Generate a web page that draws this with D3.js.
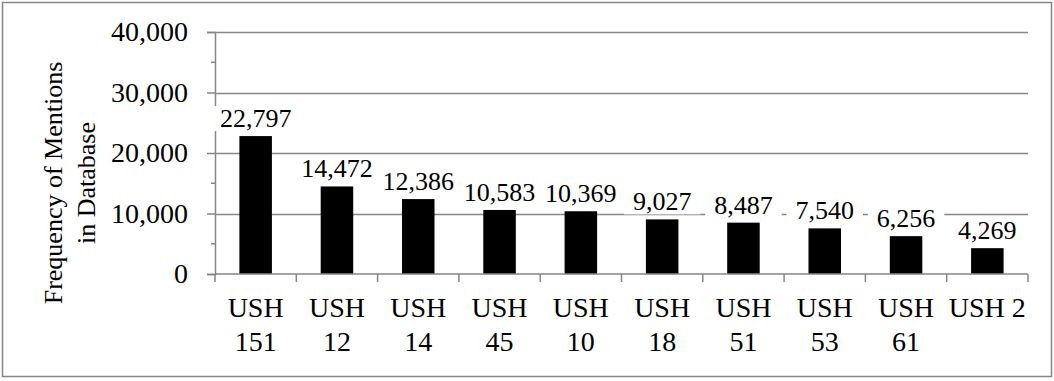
<!DOCTYPE html>
<html>
<head>
<meta charset="utf-8">
<script src="https://cdn.jsdelivr.net/npm/d3@7"></script>
<style>
  body { margin: 0; background: #fff; }
  svg { display: block; font-family: "Liberation Serif", "Times New Roman", serif; }
</style>
</head>
<body>
<div id="chart"></div>
<script>
// data
const categories = ["USH 151", "USH 12", "USH 14", "USH 45", "USH 10", "USH 18", "USH 51", "USH 53", "USH 61", "USH 2"];
const mentions = [22797, 14472, 12386, 10583, 10369, 9027, 8487, 7540, 6256, 4269];
const yTicks = [0, 10000, 20000, 30000, 40000];
const yMinorTicks = [5000, 15000, 25000, 35000];
const yTitle = ["Frequency of Mentions", "in Database"];

const width = 1054, height = 381;
const margin = { left: 215, right: 26, top: 32, bottom: 107 };
const gray = "#868686";

const svg = d3.select("#chart").append("svg")
    .attr("width", width)
    .attr("height", height);

// chart area border
svg.append("rect")
    .attr("x", 2.5).attr("y", 2.5)
    .attr("width", width - 5).attr("height", height - 7)
    .attr("fill", "#fff")
    .attr("stroke", gray)
    .attr("stroke-width", 1.5);

const x = d3.scaleBand()
    .domain(categories)
    .range([margin.left, width - margin.right])
    .paddingInner(0.6)
    .paddingOuter(0.3);

const y = d3.scaleLinear()
    .domain([0, 40000])
    .range([height - margin.bottom, margin.top]);

// gridlines
svg.append("g")
    .selectAll("line")
    .data(yTicks.slice(1))
    .enter().append("line")
    .attr("x1", margin.left).attr("x2", width - margin.right)
    .attr("y1", d => Math.round(y(d)) + 0.5).attr("y2", d => Math.round(y(d)) + 0.5)
    .attr("stroke", gray)
    .attr("stroke-width", 1.5);

// y axis
const yAxis = svg.append("g")
    .attr("transform", `translate(${margin.left},0)`)
    .call(d3.axisLeft(y).tickValues(yTicks).tickSize(8).tickPadding(19)
        .tickFormat(d3.format(",")));
yAxis.select(".domain").attr("stroke", gray).attr("stroke-width", 1.5);
yAxis.selectAll(".tick line").attr("stroke", gray).attr("stroke-width", 1.5);
yAxis.selectAll("text")
    .attr("font-size", "28px")
    .attr("font-family", "Liberation Serif")
    .attr("fill", "#000");

svg.append("g")
    .selectAll("line")
    .data(yMinorTicks)
    .enter().append("line")
    .attr("x1", margin.left - 4).attr("x2", margin.left)
    .attr("y1", d => y(d)).attr("y2", d => y(d))
    .attr("stroke", gray)
    .attr("stroke-width", 1.5);

// bars
svg.append("g")
    .selectAll("rect")
    .data(mentions)
    .enter().append("rect")
    .attr("x", (d, i) => x(categories[i]))
    .attr("y", d => y(d))
    .attr("width", x.bandwidth())
    .attr("height", d => y(0) - y(d))
    .attr("fill", "#000");

// x axis: ticks at category boundaries
const step = x.step();
const xBase = y(0);
svg.append("line")
    .attr("x1", margin.left).attr("x2", width - margin.right)
    .attr("y1", xBase).attr("y2", xBase)
    .attr("stroke", gray).attr("stroke-width", 1.5);

svg.append("g")
    .selectAll("line")
    .data(d3.range(categories.length + 1))
    .enter().append("line")
    .attr("x1", i => margin.left + i * (width - margin.left - margin.right) / categories.length)
    .attr("x2", i => margin.left + i * (width - margin.left - margin.right) / categories.length)
    .attr("y1", xBase).attr("y2", xBase + 8)
    .attr("stroke", gray).attr("stroke-width", 1.5);

// category labels, wrapped when wider than a category
const catLabels = svg.append("g")
    .selectAll("text")
    .data(categories)
    .enter().append("text")
    .attr("text-anchor", "middle")
    .attr("font-size", "28px")
    .attr("fill", "#000")
    .attr("x", d => x(d) + x.bandwidth() / 2)
    .attr("y", xBase + 43)
    .text(d => d);

catLabels.each(function(d) {
    const t = d3.select(this);
    if (this.getComputedTextLength() > step - 4) {
        const words = d.split(" ");
        t.text(null);
        words.forEach((w, k) => {
            t.append("tspan")
                .attr("x", x(d) + x.bandwidth() / 2)
                .attr("dy", k === 0 ? 0 : 34)
                .text(w);
        });
    }
});

// data labels with white background
const labelG = svg.append("g");
mentions.forEach((v, i) => {
    const g = labelG.append("g");
    const bg = g.append("rect").attr("fill", "#fff");
    const t = g.append("text")
        .attr("text-anchor", "middle")
        .attr("font-size", "26px")
        .attr("fill", "#000")
        .attr("x", x(categories[i]) + x.bandwidth() / 2)
        .attr("y", y(v) - 9)
        .text(d3.format(",")(v));
    const b = t.node().getBBox();
    bg.attr("x", b.x - 9).attr("y", b.y + 2)
        .attr("width", b.width + 18).attr("height", b.height - 4);
});

// y axis title
const title = svg.append("text")
    .attr("transform", `translate(62,183) rotate(-90)`)
    .attr("text-anchor", "middle")
    .attr("font-size", "26px")
    .attr("fill", "#000");
yTitle.forEach((line, k) => {
    title.append("tspan")
        .attr("x", 0)
        .attr("dy", k === 0 ? 0 : 33)
        .text(line);
});
</script>
</body>
</html>
